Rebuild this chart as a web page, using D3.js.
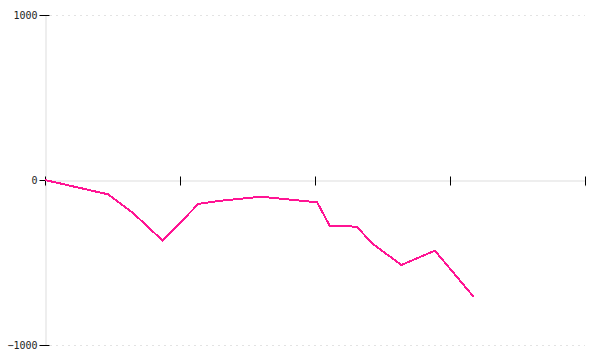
<!DOCTYPE html>
<html>
<head>
<meta charset="utf-8">
<script src="https://cdn.jsdelivr.net/npm/d3@7"></script>
<style>
  body { margin: 0; background: #fff; }
  svg { display: block; }
  .tick text { font-family: "DejaVu Sans Mono", monospace; font-size: 10px; fill: #222; }
</style>
</head>
<body>
<svg id="chart" width="600" height="360"></svg>
<script>
// x positions (0..100 along the axis) and values of the series
const xs = [0, 11.7, 16.3, 21.8, 28.4, 32.7, 40.0, 50.4, 52.7, 57.7, 60.8, 66.0, 72.2, 79.4];
const ys = [0, -87, -200, -368, -145, -125, -101, -135, -276, -283, -390, -515, -428, -709];
const xTicks = [0, 25, 50, 75, 100];
const yTicks = [-1000, 0, 1000];

const width = 600, height = 360;
const margin = { top: 15, right: 15, bottom: 15, left: 45 };

const svg = d3.select("#chart");

const x = d3.scaleLinear().domain([0, 100]).range([margin.left, width - margin.right]);
const y = d3.scaleLinear().domain([-1000, 1000]).range([height - margin.bottom, margin.top]);

// dotted grid at the outer ticks
svg.append("g")
  .selectAll("line")
  .data(yTicks.filter((d) => d !== 0))
  .enter()
  .append("line")
  .attr("x1", margin.left + 5)
  .attr("x2", width - margin.right)
  .attr("y1", (d) => y(d) + 0.5)
  .attr("y2", (d) => y(d) + 0.5)
  .attr("stroke", "#e3e3e3")
  .attr("stroke-dasharray", "2,4");

// y axis
const gy = svg.append("g")
  .attr("transform", `translate(${margin.left + 0.5},0)`)
  .call(d3.axisLeft(y).tickValues(yTicks).tickFormat(d3.format("d")).tickSize(6).tickPadding(2));
gy.select(".domain").attr("stroke", "#ddd");
gy.selectAll(".tick line").attr("x1", 4).attr("x2", -6).attr("stroke", "#000");

// x axis along zero
const gx = svg.append("g")
  .attr("transform", `translate(0,${y(0) + 0.5})`)
  .call(d3.axisBottom(x).tickValues(xTicks).tickFormat(""));
gx.select(".domain").attr("stroke", "#ddd");
gx.selectAll(".tick line").attr("y1", -4).attr("y2", 5).attr("stroke", "#000");

// series
const line = d3.line()
  .x((d) => x(d[0]))
  .y((d) => y(d[1]));

svg.append("path")
  .datum(xs.map((v, i) => [v, ys[i]]))
  .attr("fill", "none")
  .attr("stroke", "#ff1493")
  .attr("stroke-width", 2)
  .attr("shape-rendering", "crispEdges")
  .attr("d", line);
</script>
</body>
</html>
